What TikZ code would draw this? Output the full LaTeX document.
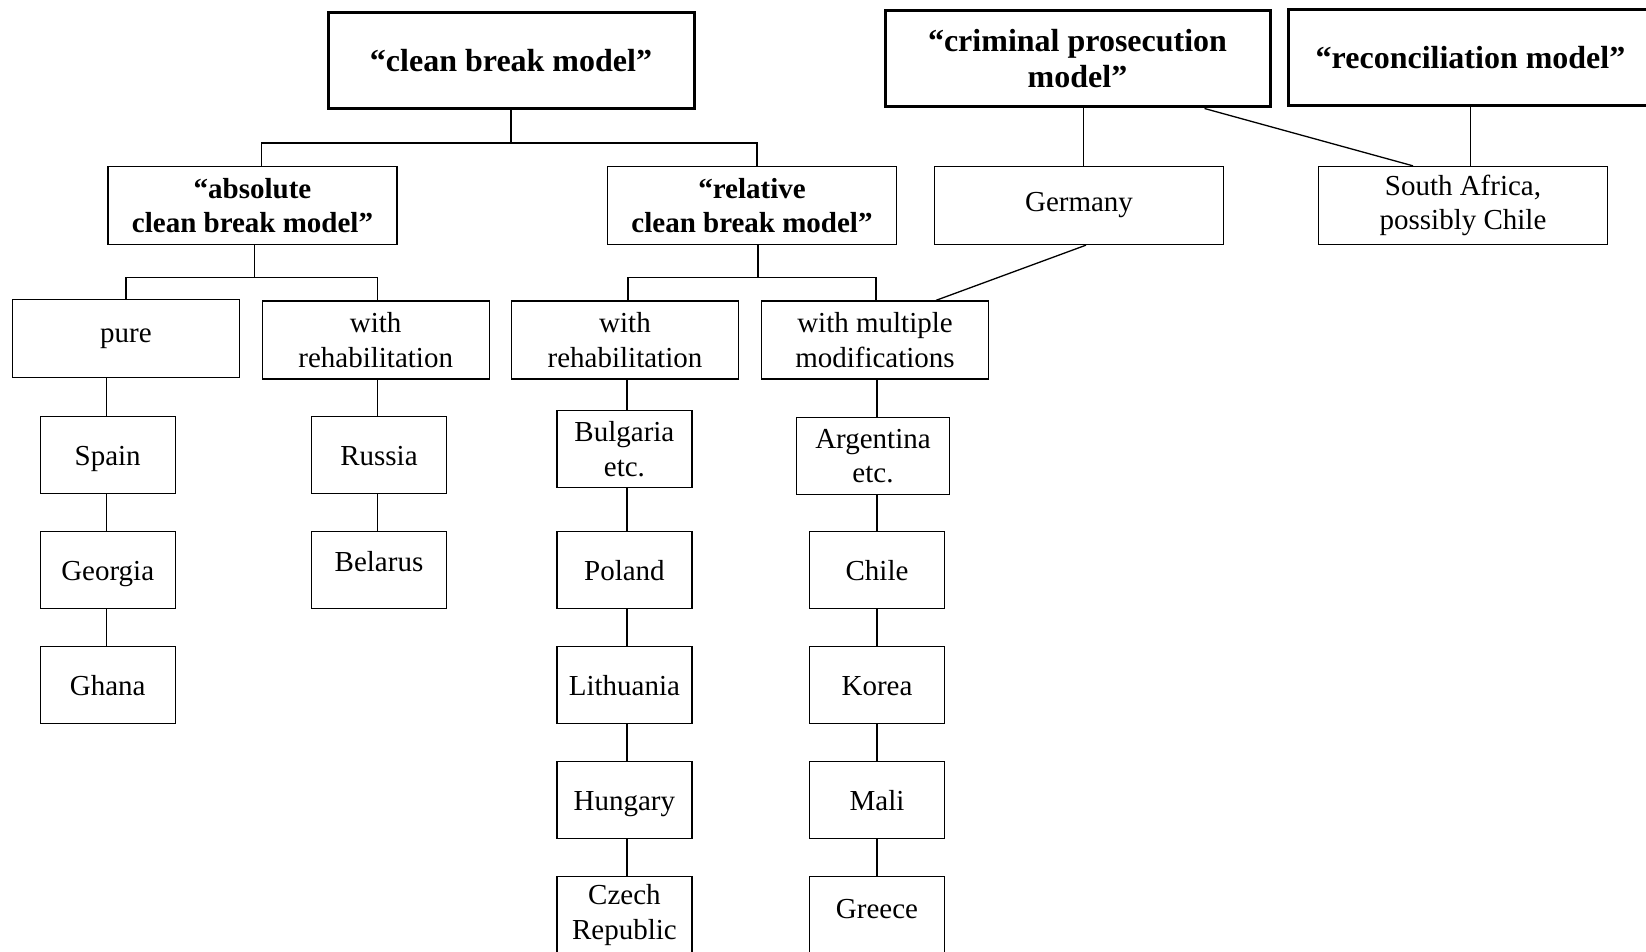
\documentclass[tikz,border=0pt]{standalone}
\usepackage{fontspec}
\setmainfont{Liberation Serif}
\tikzset{
  bx/.style={draw, line width=1.3pt, align=center, inner sep=2pt, font=\fontsize{29}{34.5}\selectfont},
  hd/.style={draw, line width=3pt, align=center, inner sep=2pt, minimum height=96pt, font=\fontsize{32}{36}\selectfont\bfseries},
  sh/.style={draw, line width=1.3pt, align=center, inner sep=2pt, minimum width=289pt, minimum height=78pt, font=\fontsize{29}{34.5}\selectfont\bfseries},
  lv/.style={bx, minimum width=289pt, minimum height=78pt},
  md/.style={bx, minimum width=227pt, minimum height=78pt},
  cn/.style={bx, minimum width=135pt, minimum height=77pt},
  one/.style={text height=26pt, text depth=5.4pt},
  ln/.style={line width=1.3pt},
}
\begin{document}
\begin{tikzpicture}[x=1pt,y=-1pt]
\useasboundingbox (0,0) rectangle (1646,952);
\clip (0,0) rectangle (1646,952);
\fill[white] (0,0) rectangle (1646,952);
% top level
\node[hd, minimum width=366pt] (cb) at (511,61) {“clean break model”};
\node[hd, minimum width=385pt] (cp) at (1077.5,59) {“criminal prosecution\\model”};
\node[hd, minimum width=365pt] (rc) at (1470.5,58) {“reconciliation model”};
% second level
\node[sh] (abs) at (252.5,205.5) {“absolute\\clean break model”};
\node[sh] (rel) at (752,205.5) {“relative\\clean break model”};
\node[lv] (ger) at (1079,205.5) {Germany};
\node[lv] (sa) at (1463,205.5) {South Africa,\\possibly Chile};
% third level
\node[md] (pure) at (126,338.5) {pure};
\node[md] (wr1) at (375.7,340) {with\\rehabilitation};
\node[md] (wr2) at (625,340) {with\\rehabilitation};
\node[md] (wm) at (875,340) {with multiple\\modifications};
% column 1
\node[cn, one] (sp) at (107.7,455) {Spain};
\node[cn, one] (geo) at (107.7,570) {Georgia};
\node[cn, one] (gh) at (107.7,685) {Ghana};
% column 2
\node[cn, one] (ru) at (379,455) {Russia};
\node[cn, one] (be) at (379,570) {\raisebox{9pt}{Belarus}};
% column 3
\node[cn] (bu) at (624.4,449) {Bulgaria\\etc.};
\node[cn, one] (po) at (624.4,570) {Poland};
\node[cn, one] (li) at (624.4,685) {Lithuania};
\node[cn, one] (hu) at (624.4,800) {Hungary};
\node[cn] (cz) at (624.4,915) {Czech\\Republic};
% column 4
\node[cn, minimum width=153.6pt] (ar) at (873,456) {Argentina\\etc.};
\node[cn, one] (ch) at (877,570) {Chile};
\node[cn, one] (ko) at (877,685) {Korea};
\node[cn, one] (ma) at (877,800) {Mali};
\node[cn, one] (gr) at (877,915) {\raisebox{7.3pt}{Greece}};
% connectors: clean break tree
\draw[ln] (cb.south) -- ++(0,32.5) coordinate (j1);
\draw[ln] ([xshift=9pt]abs.north) |- (j1) -| ([xshift=5pt]rel.north);
\draw[ln] ([xshift=2pt]abs.south) -- ++(0,32.5) coordinate (j2);
\draw[ln] (pure.north) |- (j2) -| ([xshift=2pt]wr1.north);
\draw[ln] ([xshift=6pt]rel.south) -- ++(0,32.5) coordinate (j3);
\draw[ln] ([xshift=3pt]wr2.north) |- (j3) -| ([xshift=1pt]wm.north);
% right part
\draw[ln] ([xshift=6pt]cp.south) -- ([xshift=6pt]cp.south |- ger.north);
\draw[ln] ([xshift=-67pt]cp.south east) -- ([xshift=-50pt]sa.north);
\draw[ln] (rc.south) -- (rc.south |- sa.north);
\draw[ln] ([xshift=7pt]ger.south) -- ([xshift=61pt]wm.north);
% column chains
\draw[ln] ([xshift=-1pt]sp.north) -- ([xshift=-1pt]sp.north |- pure.south);
\draw[ln] ([xshift=-1pt]sp.south) -- ([xshift=-1pt]geo.north);
\draw[ln] ([xshift=-1pt]geo.south) -- ([xshift=-1pt]gh.north);
\draw[ln] ([xshift=-1.5pt]ru.north) -- ([xshift=-1.5pt]ru.north |- wr1.south);
\draw[ln] ([xshift=-1.5pt]ru.south) -- ([xshift=-1.5pt]be.north);
\draw[ln] ([xshift=2.6pt]bu.north) -- ([xshift=2.6pt]bu.north |- wr2.south);
\draw[ln] ([xshift=2.6pt]bu.south) -- ([xshift=2.6pt]po.north);
\draw[ln] ([xshift=2.6pt]po.south) -- ([xshift=2.6pt]li.north);
\draw[ln] ([xshift=2.6pt]li.south) -- ([xshift=2.6pt]hu.north);
\draw[ln] ([xshift=2.6pt]hu.south) -- ([xshift=2.6pt]cz.north);
\draw[ln] ([xshift=4pt]ar.north) -- ([xshift=4pt]ar.north |- wm.south);
\draw[ln] (ch.north |- ar.south) -- (ch.north);
\draw[ln] (ch.south) -- (ko.north);
\draw[ln] (ko.south) -- (ma.north);
\draw[ln] (ma.south) -- (gr.north);
\end{tikzpicture}
\end{document}
